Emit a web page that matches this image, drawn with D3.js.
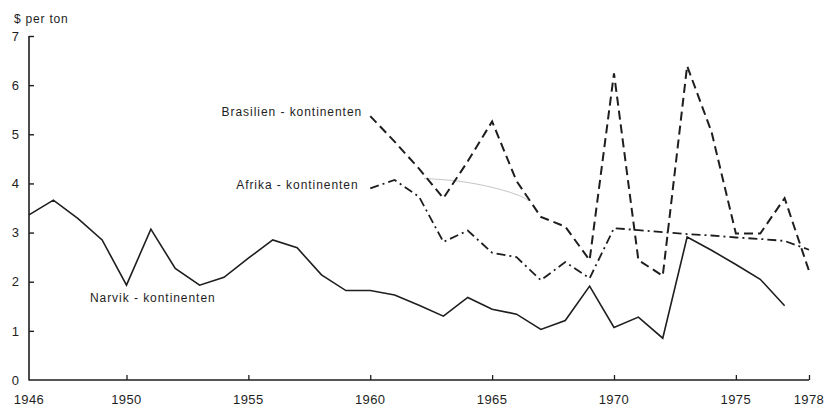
<!DOCTYPE html>
<html>
<head>
<meta charset="utf-8">
<script src="https://cdn.jsdelivr.net/npm/d3@7"></script>
<style>
  html, body { margin: 0; padding: 0; background: #fff; }
  svg { display: block; }
  text { font-family: "Liberation Sans", Arial, sans-serif; fill: #1e1e1e; }
</style>
</head>
<body>
<svg id="chart" width="824" height="409"></svg>
<script>
// Freight rates for ore shipments, dollars per ton, 1946–1978
const narvikYears = d3.range(1946, 1978);
const narvik = [3.36, 3.66, 3.29, 2.85, 1.93, 3.07, 2.27, 1.93, 2.09, 2.48,
                2.85, 2.69, 2.14, 1.82, 1.82, 1.73, 1.52, 1.30, 1.68, 1.44,
                1.34, 1.03, 1.21, 1.91, 1.07, 1.28, 0.85, 2.91, 2.64, 2.35,
                2.05, 1.51];

const brasilienYears = d3.range(1960, 1979);
const brasilien = [5.37, 4.85, 4.30, 3.70, 4.45, 5.26, 4.05, 3.32, 3.12, 2.44,
                   6.24, 2.44, 2.12, 6.39, 5.05, 2.98, 2.98, 3.70, 2.22];

const afrikaYears = d3.range(1960, 1979);
const afrika = [3.90, 4.07, 3.73, 2.81, 3.04, 2.59, 2.50, 2.03, 2.40, 2.07,
                3.09, 3.05, 3.01, 2.97, 2.94, 2.90, 2.87, 2.83, 2.65];

const xTickYears = [1946, 1950, 1955, 1960, 1965, 1970, 1975, 1978];
const yTickValues = [0, 1, 2, 3, 4, 5, 6, 7];

const seriesLabels = [
  { name: "Brasilien - kontinenten", year: 1953.9, value: 5.47 },
  { name: "Afrika - kontinenten",    year: 1954.5, value: 3.97 },
  { name: "Narvik - kontinenten",    year: 1948.5, value: 1.67 }
];

const svg = d3.select("#chart");

const x = d3.scaleLinear().domain([1946, 1978]).range([29, 809]);
const y = d3.scaleLinear().domain([0, 7]).range([380, 36]);

const ink = "#1e1e1e";

// y axis: line on the left, ticks pointing into the plot
const yAxis = d3.axisRight(y)
  .tickValues(yTickValues)
  .tickSize(5)
  .tickFormat("");
const gy = svg.append("g").attr("transform", `translate(${x(1946)},0)`).call(yAxis);
gy.select(".domain").attr("d", `M0,${y(7)}V${y(0) + 0.5}`)
  .attr("stroke", ink).attr("stroke-width", 1.6);
gy.selectAll(".tick line").attr("stroke", ink).attr("stroke-width", 1.4);
gy.selectAll(".tick").filter(d => d === 0).remove();

svg.append("g").selectAll("text")
  .data(yTickValues)
  .join("text")
  .attr("x", 19)
  .attr("y", d => y(d))
  .attr("dy", "0.36em")
  .attr("text-anchor", "end")
  .attr("font-size", 13)
  .text(d => d);

// x axis: baseline with short ticks pointing up
const xAxis = d3.axisTop(x)
  .tickValues(xTickYears.filter(d => d !== 1946))
  .tickSize(5)
  .tickFormat("");
const gx = svg.append("g").attr("transform", `translate(0,${y(0)})`).call(xAxis);
gx.select(".domain").attr("d", `M${x(1946)},0H${x(1978)}`)
  .attr("stroke", ink).attr("stroke-width", 1.6);
gx.selectAll(".tick line").attr("stroke", ink).attr("stroke-width", 1.3);

svg.append("g").selectAll("text")
  .data(xTickYears)
  .join("text")
  .attr("x", d => x(d))
  .attr("y", 399)
  .attr("dy", "0.36em")
  .attr("text-anchor", "middle")
  .attr("font-size", 13)
  .attr("letter-spacing", 0.4)
  .text(d => d);

// unit label
svg.append("text")
  .attr("x", 14)
  .attr("y", 19)
  .attr("dy", "0.36em")
  .attr("font-size", 12)
  .attr("letter-spacing", 0.8)
  .text("$ per ton");

// faint pencil arc above the Afrika line
const arc = d3.line().curve(d3.curveBasis);
svg.append("path")
  .attr("d", arc([[x(1962.2), y(4.1)], [x(1964), y(4.05)], [x(1966), y(3.8)], [x(1966.5), y(3.65)]]))
  .attr("fill", "none")
  .attr("stroke", "#c4c4c4")
  .attr("stroke-width", 1);

const line = d3.line().x(d => x(d[0])).y(d => y(d[1]));

// Narvik – solid
svg.append("path")
  .attr("d", line(d3.zip(narvikYears, narvik)))
  .attr("fill", "none")
  .attr("stroke", ink)
  .attr("stroke-width", 1.6)
  .attr("stroke-linejoin", "miter");

// Brasilien – dashed
svg.append("path")
  .attr("d", line(d3.zip(brasilienYears, brasilien)))
  .attr("fill", "none")
  .attr("stroke", ink)
  .attr("stroke-width", 2)
  .attr("stroke-dasharray", "9,5");

// Afrika – dash-dot
svg.append("path")
  .attr("d", line(d3.zip(afrikaYears, afrika)))
  .attr("fill", "none")
  .attr("stroke", ink)
  .attr("stroke-width", 1.8)
  .attr("stroke-dasharray", "9,4,2,4");

// series names
svg.append("g").selectAll("text")
  .data(seriesLabels)
  .join("text")
  .attr("x", d => x(d.year))
  .attr("y", d => y(d.value))
  .attr("dy", "0.36em")
  .attr("font-size", 12)
  .attr("letter-spacing", 0.95)
  .text(d => d.name);
</script>
</body>
</html>
